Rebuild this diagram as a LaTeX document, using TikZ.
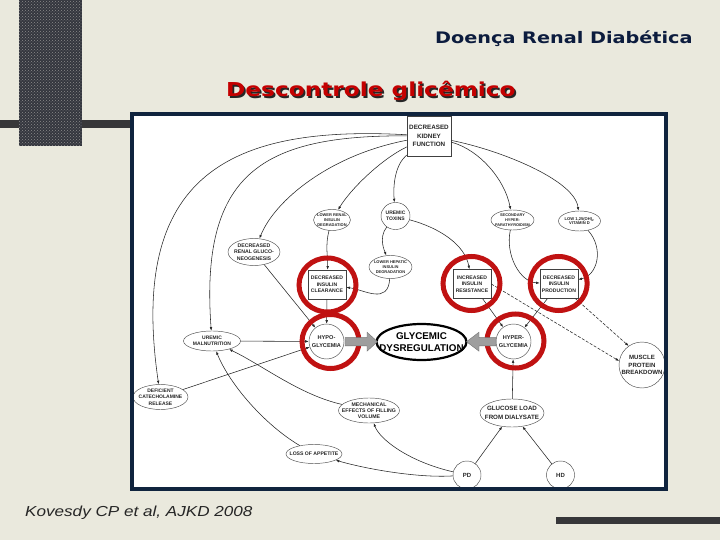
\documentclass[tikz,border=0pt]{standalone}
\usepackage{fontspec}
\setmainfont{Liberation Sans}
\newfontfamily\dejavu{DejaVu Sans}
\usetikzlibrary{arrows.meta,patterns,shapes.geometric}
\definecolor{bgc}{RGB}{234,233,221}
\definecolor{framec}{RGB}{16,36,62}
\definecolor{ringc}{RGB}{192,18,18}
\definecolor{titlec}{RGB}{12,28,62}
\definecolor{redtitle}{RGB}{196,0,0}
\definecolor{bardark}{RGB}{55,55,57}
\definecolor{vbar}{RGB}{52,54,62}
\newcommand\fsz[2]{\fontsize{#1}{#2}\selectfont\bfseries}
\newcommand\shadowtxt[1]{\rlap{\hspace{1.4pt}\raisebox{-1.4pt}{\textcolor{black!85}{#1}}}\textcolor{redtitle}{#1}}
\begin{document}
\begin{tikzpicture}[x=1pt,y=-1pt,
 rbox/.style={rectangle,draw=black!75,line width=0.6pt,fill=white,inner sep=0pt,align=center,text=black!85},
 ell/.style={ellipse,draw=black!70,line width=0.45pt,fill=white,inner sep=0pt},
 circ/.style={circle,draw=black!70,line width=0.45pt,fill=white,inner sep=0pt},
 lb/.style={inner sep=0pt,align=center,text=black!85},
 arr/.style={draw=black!85,line width=0.55pt,-{Latex[length=3.6pt,width=2.6pt]}},
 dsh/.style={arr,dash pattern=on 3pt off 1.6pt},
 ring/.style={draw=ringc,line width=5pt},
 fat/.style={fill=black!38,draw=black!55,line width=0.4pt}
]
\useasboundingbox (0,0) rectangle (720,540);
\fill[bgc] (0,0) rectangle (720,540);
% decorative bars
\fill[bardark] (0,120) rectangle (130,128.5);
\fill[vbar] (18.5,0) rectangle (81.7,146);
\fill[pattern=crosshatch dots, pattern color=black!45] (18.5,0) rectangle (81.7,146);
\fill[bardark] (556,517) rectangle (720,523.5);
% titles
\node[anchor=base west,inner sep=0pt,text=titlec,font=\dejavu\bfseries\fontsize{15.9}{18}\selectfont] (T1) at (435,43.3) {\scalebox{1.21}[1]{Doença Renal Diabética}};
\node[anchor=base west,inner sep=0pt,font=\dejavu\bfseries\fontsize{19.2}{22}\selectfont] (T2) at (226,96.7) {\scalebox{1.21}[1]{\shadowtxt{Descontrole glicêmico}}};
\node[anchor=base west,inner sep=0pt,text=black!85,font=\itshape\fontsize{14.5}{17}\selectfont] (CIT) at (25,516.5) {\scalebox{1.18}[1]{Kovesdy CP et al, AJKD 2008}};
% frame
\fill[white] (132,114) rectangle (666,489);
\begin{scope}
\clip (134,116) rectangle (664,487);
% nodes
\node[rbox,minimum width=44pt,minimum height=40pt,font=\fsz{6.3}{8.2}] (DKF) at (429,136) {DECREASED\\KIDNEY\\FUNCTION};
\node[ell,minimum width=37pt,minimum height=21pt,label={[lb,font=\fsz{4.0}{4.8}]center:{LOWER RENAL\\INSULIN\\DEGRADATION}}] (LRID) at (332,220) {};
\node[ell,minimum width=29pt,minimum height=27pt,label={[lb,font=\fsz{5}{5.8}]center:{UREMIC\\TOXINS}}] (UT) at (395.5,216) {};
\node[ell,minimum width=43pt,minimum height=20pt,label={[lb,font=\fsz{3.9}{4.7}]center:{SECONDARY\\HYPER-\\PARATHYROIDISM}}] (SHPT) at (512.5,220) {};
\node[ell,minimum width=42pt,minimum height=20pt,label={[lb,font=\fsz{4.1}{4.8}]center:{LOW 1,25(OH)\textsubscript{2}\\VITAMIN D}}] (VITD) at (579.5,221) {};
\node[ell,minimum width=52pt,minimum height=27pt,label={[lb,font=\fsz{5.2}{6.3}]center:{DECREASED\\RENAL GLUCO-\\NEOGENESIS}}] (DRG) at (254,252) {};
\node[ell,minimum width=43pt,minimum height=23pt,label={[lb,font=\fsz{4.0}{5.0}]center:{LOWER HEPATIC\\INSULIN\\DEGRADATION}}] (LHID) at (390.5,267) {};
\node[rbox,minimum width=38pt,minimum height=29pt,font=\fsz{5.1}{6.3}] (DIC) at (327,284.5) {DECREASED\\INSULIN\\CLEARANCE};
\node[rbox,minimum width=38pt,minimum height=29pt,font=\fsz{5.1}{6.3}] (IIR) at (472,284) {INCREASED\\INSULIN\\RESISTANCE};
\node[rbox,minimum width=38pt,minimum height=29pt,font=\fsz{5.1}{6.3}] (DIP) at (559,284) {DECREASED\\INSULIN\\PRODUCTION};
\node[circ,minimum size=35pt,label={[lb,font=\fsz{5.6}{7.7}]center:{HYPO-\\GLYCEMIA}}] (HYPO) at (326.5,341.5) {};
\node[ellipse,draw=black,line width=2.2pt,fill=white,minimum width=90pt,minimum height=36pt,inner sep=0pt,label={[lb,text=black,font=\fsz{9.8}{11.7}]center:{GLYCEMIC\\DYSREGULATION}}] (GD) at (421.5,342) {};
\node[circ,minimum size=35pt,label={[lb,font=\fsz{5.6}{7.7}]center:{HYPER-\\GLYCEMIA}}] (HYPER) at (513.5,341.5) {};
\node[ell,minimum width=57pt,minimum height=20pt,label={[lb,font=\fsz{5}{6}]center:{UREMIC\\MALNUTRITION}}] (UM) at (212,341) {};
\node[ell,minimum width=55pt,minimum height=25pt,label={[lb,font=\fsz{5}{6.7}]center:{DEFICIENT\\CATECHOLAMINE\\RELEASE}}] (DCR) at (160.5,397) {};
\node[ell,minimum width=61pt,minimum height=25pt,label={[lb,font=\fsz{5.2}{6.2}]center:{MECHANICAL\\EFFECTS OF FILLING\\VOLUME}}] (MEFV) at (369,410.5) {};
\node[ell,minimum width=64pt,minimum height=28pt,label={[lb,font=\fsz{6.2}{8.3}]center:{GLUCOSE LOAD\\FROM DIALYSATE}}] (GLFD) at (512,413) {};
\node[circ,minimum size=46pt,label={[lb,font=\fsz{6.1}{7.3}]center:{MUSCLE\\PROTEIN\\BREAKDOWN}}] (MPB) at (642,365) {};
\node[ell,minimum width=56pt,minimum height=19pt,label={[lb,font=\fsz{5.1}{6}]center:{LOSS OF APPETITE}}] (LOA) at (314,454) {};
\node[circ,minimum size=28pt,label={[lb,font=\fsz{6}{7}]center:{PD}}] (PD) at (467,475) {};
\node[circ,minimum size=28pt,label={[lb,font=\fsz{6}{7}]center:{HD}}] (HD) at (560.5,475) {};
% connectors from kidney function
\draw[arr] (DKF) .. controls (230,125) and (128,175) .. (DCR);
\draw[arr] (DKF) .. controls (260,135) and (200,175) .. (UM);
\draw[arr] (DKF) .. controls (330,155) and (275,200) .. (DRG);
\draw[arr] (DKF) .. controls (380,160) and (350,190) .. (LRID);
\draw[arr] (DKF) .. controls (395,165) and (393,185) .. (UT);
\draw[arr] (DKF) .. controls (480,150) and (505,180) .. (SHPT);
\draw[arr] (DKF) .. controls (500,150) and (575,180) .. (VITD);
% other connectors
\draw[arr] (LRID) .. controls (325,245) and (328,258) .. (DIC);
\draw[arr] (UT) .. controls (378,238) and (385,252) .. (LHID);
\draw[arr] (LHID) .. controls (388,305) and (365,290) .. (DIC);
\draw[arr] (UT) .. controls (440,228) and (465,245) .. (IIR);
\draw[arr] (SHPT) .. controls (505,255) and (520,282) .. (DIP);
\draw[arr] (VITD) .. controls (604,248) and (598,275) .. (DIP);
\draw[arr] (DIC) -- (HYPO);
\draw[arr] (DRG) -- (HYPO);
\draw[arr] (UM) -- (HYPO);
\draw[arr] (DCR) -- (HYPO);
\draw[arr] (IIR) -- (HYPER);
\draw[arr] (DIP) -- (HYPER);
\draw[dsh] (IIR.east) -- (MPB.170);
\draw[dsh] (DIP) -- (MPB.125);
\draw[arr] (GLFD) -- (HYPER);
\draw[arr] (PD) -- (GLFD);
\draw[arr] (HD) -- (GLFD);
\draw[arr] (PD) .. controls (420,478) and (370,470) .. (LOA);
\draw[arr] (PD) .. controls (410,462) and (380,440) .. (MEFV);
\draw[arr] (MEFV) .. controls (300,395) and (262,365) .. (UM);
\draw[arr] (LOA) .. controls (265,425) and (230,385) .. (UM);
% red rings
\draw[ring] (327.5,285) ellipse [x radius=28.5pt, y radius=27pt];
\draw[ring] (471.5,283.5) ellipse [x radius=28.5pt, y radius=27pt];
\draw[ring] (558.7,283.5) ellipse [x radius=28.5pt, y radius=27pt];
\draw[ring] (330.5,341.5) ellipse [x radius=28.5pt, y radius=27pt];
\draw[ring] (515.5,341) ellipse [x radius=28.5pt, y radius=27pt];
% grey fat arrows
\filldraw[fat] (345,337.6) -- (367,337.6) -- (367,332.2) -- (377.5,341.7) -- (367,351.2) -- (367,345.8) -- (345,345.8) -- cycle;
\filldraw[fat] (496,337.6) -- (479,337.6) -- (479,332.2) -- (466.5,341.7) -- (479,351.2) -- (479,345.8) -- (496,345.8) -- cycle;
\end{scope}
\draw[framec,line width=4pt] (132,114) rectangle (666,489);
\end{tikzpicture}
\end{document}
